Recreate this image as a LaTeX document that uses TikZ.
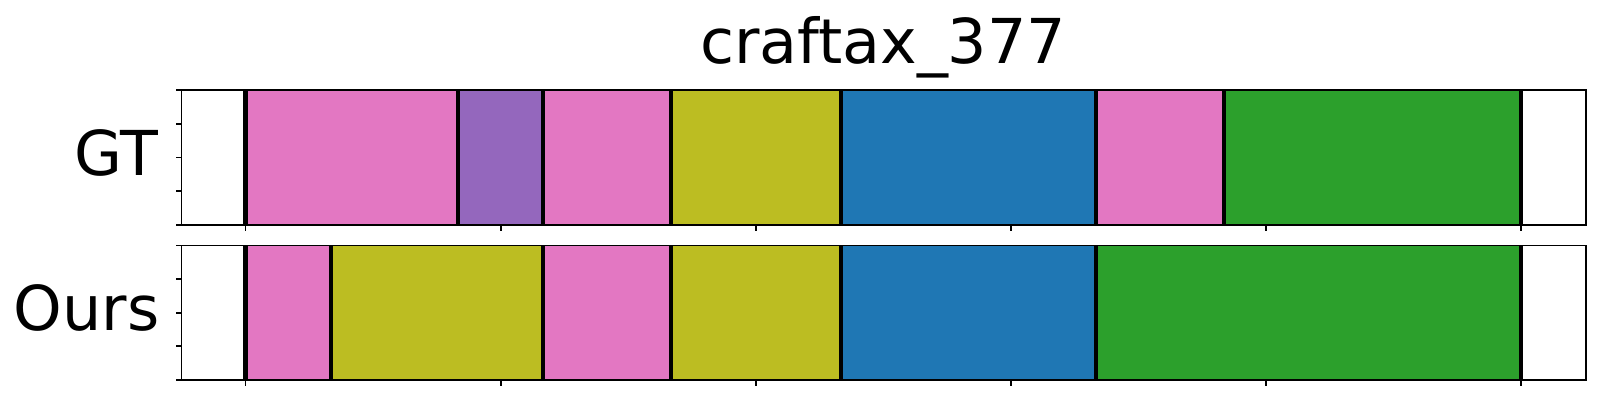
\documentclass[tikz,border=0pt]{standalone}
\usepackage{fontspec}
\setmainfont{DejaVu Sans}
\definecolor{tabpink}{HTML}{E377C2}
\definecolor{tabpurple}{HTML}{9467BD}
\definecolor{tabolive}{HTML}{BCBD22}
\definecolor{tabblue}{HTML}{1F77B4}
\definecolor{tabgreen}{HTML}{2CA02C}
\tikzset{
  segline/.style={black,line width=1.15pt},
  axframe/.style={black,line width=0.55pt},
  lbl/.style={font=\fontsize{17.6}{20}\selectfont,inner sep=0pt}
}
\begin{document}
\begin{tikzpicture}[x=0.01cm,y=-0.01cm]
  \useasboundingbox (0,0) rectangle (1600,400);
  % GT row
  \foreach \a/\b/\c in {0/5/tabpink, 5/7/tabpurple, 7/10/tabpink, 10/14/tabolive,
                        14/20/tabblue, 20/23/tabpink, 23/30/tabgreen} {
      \fill[\c] ({245.5+42.53*\a},90) rectangle ({245.5+42.53*\b},225);
  }
  \foreach \a in {0,5,7,10,14,20,23,30} {
      \draw[segline] ({245.5+42.53*\a},90) -- ({245.5+42.53*\a},225);
  }
  % Ours row
  \foreach \a/\b/\c in {0/2/tabpink, 2/7/tabolive, 7/10/tabpink, 10/14/tabolive,
                        14/20/tabblue, 20/30/tabgreen} {
      \fill[\c] ({245.5+42.53*\a},245.5) rectangle ({245.5+42.53*\b},380);
  }
  \foreach \a in {0,2,7,10,14,20,30} {
      \draw[segline] ({245.5+42.53*\a},245.5) -- ({245.5+42.53*\a},380);
  }
  % frames and ticks
  \foreach \t/\u in {90/225, 245.5/380} {
      \draw[axframe] (181.5,\t) rectangle (1585.7,\u);
      \foreach \i in {0,...,4} {
          \draw[axframe] (176,{\t+\i*(\u-\t)/4}) -- (181.5,{\t+\i*(\u-\t)/4});
      }
      \foreach \a in {0,6,...,30} {
          \draw[axframe] ({245.5+42.53*\a},\u) -- ({245.5+42.53*\a},\u+5.5);
      }
  }
  \node[lbl,anchor=base] (title) at (883,63.3) {craftax\_377};
  \node[lbl,anchor=base east] (lblGT) at (158.5,175) {GT};
  \node[lbl,anchor=base east] (lblOurs) at (160,330) {Ours};
\end{tikzpicture}
\end{document}
